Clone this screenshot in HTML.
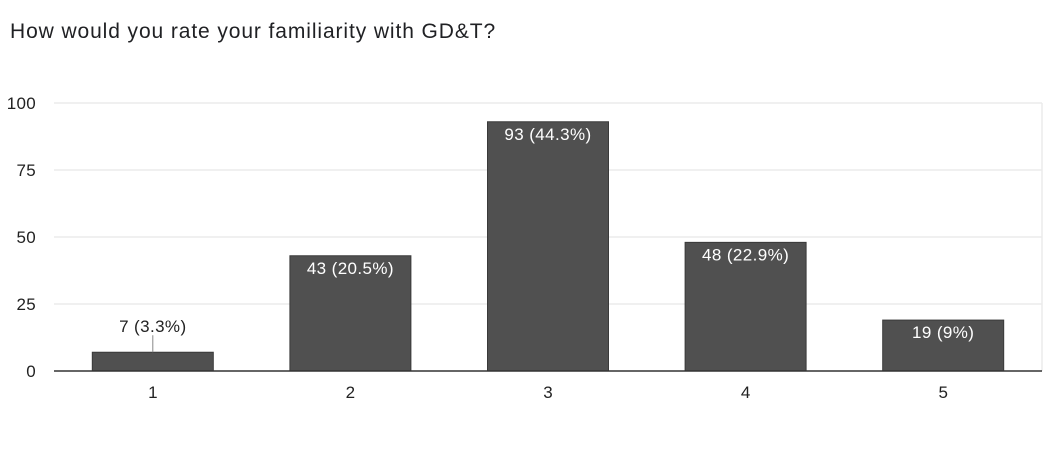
<!DOCTYPE html>
<html><head><meta charset="utf-8"><style>
body{margin:0;background:#fff;width:1055px;height:446px;overflow:hidden}
svg text{font-family:"Liberation Sans",Arial,sans-serif}
</style></head><body>
<svg width="1055" height="446">
<text x="10" y="38" font-size="21" letter-spacing="0.9" fill="#202124">How would you rate your familiarity with GD&amp;T?</text>
<g id="grid"></g><g id="bars"></g><g id="labels"></g>
</svg>
<script>
const categories=["1","2","3","4","5"];
const counts=[7,43,93,48,19];
const percents=["3.3%","20.5%","44.3%","22.9%","9%"];
const yTicks=[0,25,50,75,100];
const L=54,R=1042,T=103,B=371,yMax=100;
const ns="http://www.w3.org/2000/svg";
const svg=document.querySelector('svg');
const y=v=>B-(v/yMax)*(B-T);
const band=(R-L)/categories.length,bw=121;
const xc=i=>L+band*(i+0.5);
function mk(tag,attrs,parent,txt){const e=document.createElementNS(ns,tag);for(const k in attrs)e.setAttribute(k,attrs[k]);if(txt!==undefined)e.textContent=txt;(parent||svg).appendChild(e);return e;}
const grid=document.getElementById('grid'),bars=document.getElementById('bars'),labels=document.getElementById('labels');
yTicks.forEach(t=>{
 if(t>0){const g=mk('line',{x1:L,x2:R,y1:y(t),y2:y(t),stroke:'#ebebeb','stroke-width':1.5},grid);
 
 }
 const tl=mk('text',{x:36,y:y(t)+6,'font-size':17,'letter-spacing':0.3,fill:'#222','text-anchor':'end'},grid,String(t));
 
 
});
const rv=mk('line',{x1:R,x2:R,y1:T,y2:B,stroke:'#ebebeb','stroke-width':1.5},grid);


counts.forEach((v,i)=>{
 const x=xc(i)-bw/2;
 const r=mk('rect',{x:x,y:y(v),width:bw,height:B-y(v),fill:'#505050',stroke:'#3a3a3a','stroke-width':1},bars);
 
 
 const txt=v+' ('+percents[i]+')';
 let lab;
 if(B-y(v)>28){
  lab=mk('text',{x:xc(i),y:y(v)+18,'font-size':17,'letter-spacing':0.4,fill:'#fff','text-anchor':'middle'},labels,txt);
 }else{
  const ln=mk('line',{x1:xc(i),x2:xc(i),y1:y(v),y2:y(v)-17,stroke:'#888','stroke-width':1},labels);
  
  
  lab=mk('text',{x:xc(i),y:y(v)-20,'font-size':17,'letter-spacing':0.4,fill:'#222','text-anchor':'middle'},labels,txt);
 }
 
 
 const cl=mk('text',{x:xc(i),y:B+27,'font-size':17,fill:'#222','text-anchor':'middle'},labels,categories[i]);
 
 
});
const base=mk('line',{x1:L,x2:R,y1:B,y2:B,stroke:'#333','stroke-width':1.5});


</script>
</body></html>
